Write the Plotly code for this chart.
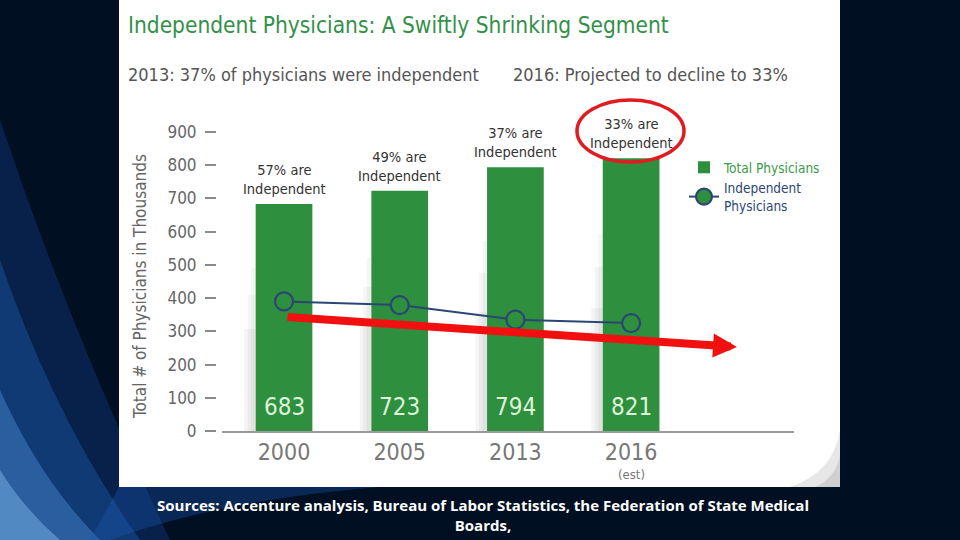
import plotly.graph_objects as go

# ---------------- data ----------------
years = ["2000", "2005", "2013", "2016"]
total_physicians = [683, 723, 794, 821]
independent_physicians = [390, 379, 335, 325]
independent_share = ["57%", "49%", "37%", "33%"]
y_tick_values = [0, 100, 200, 300, 400, 500, 600, 700, 800, 900]

title_text = "Independent Physicians: A Swiftly Shrinking Segment"
subtitle_left = "2013: 37% of physicians were independent"
subtitle_right = "2016: Projected to decline to 33%"
y_title = "Total # of Physicians in Thousands"
source_lines = [
    "Sources: Accenture analysis, Bureau of Labor Statistics, the Federation of State Medical",
    "Boards,",
    "Medical Group Management Association, American Medical Association, Jackson Healthcare",
]

# ---------------- styling ----------------
W, H = 960, 540
def px(x):
    return x / W
def py(y):
    return 1 - y / H

GREEN = "#2e8f3e"
TITLE_GREEN = "#33904a"
NAVY = "#2c4674"
GRAY = "#666666"
FONT = "Liberation Sans Narrow, DejaVu Sans Condensed, Roboto Condensed, Roboto"
BAR_W = 0.49

fig = go.Figure()

fig.add_trace(go.Bar(
    x=years, y=total_physicians,
    name="<span style='color:#3a9a48'>Total Physicians</span>",
    marker=dict(color=GREEN, line=dict(width=0)),
    width=BAR_W, hoverinfo="skip",
))
fig.add_trace(go.Scatter(
    x=years, y=independent_physicians, mode="lines+markers",
    name="<span style='color:#2c4674'>Independent<br>Physicians</span>",
    line=dict(color=NAVY, width=2),
    marker=dict(size=18, color=GREEN, line=dict(color=NAVY, width=2.2)),
    hoverinfo="skip",
))

shapes = []
# slide background streaks
shapes += [
    dict(type="path", xref="paper", yref="paper", layer="below",
         path=f"M {px(0)},{py(120)} Q {px(70)},{py(330)} {px(170)},{py(540)} L {px(0)},{py(540)} Z",
         fillcolor="rgba(20,70,150,0.35)", line=dict(width=0)),
    dict(type="path", xref="paper", yref="paper", layer="below",
         path=f"M {px(0)},{py(260)} Q {px(55)},{py(420)} {px(140)},{py(540)} L {px(0)},{py(540)} Z",
         fillcolor="rgba(35,105,195,0.35)", line=dict(width=0)),
    dict(type="path", xref="paper", yref="paper", layer="below",
         path=f"M {px(0)},{py(390)} Q {px(40)},{py(480)} {px(100)},{py(540)} L {px(0)},{py(540)} Z",
         fillcolor="rgba(80,150,225,0.4)", line=dict(width=0)),
    dict(type="path", xref="paper", yref="paper", layer="below",
         path=f"M {px(0)},{py(470)} Q {px(25)},{py(510)} {px(60)},{py(540)} L {px(0)},{py(540)} Z",
         fillcolor="rgba(130,190,240,0.45)", line=dict(width=0)),
    dict(type="path", xref="paper", yref="paper", layer="below",
         path=f"M {px(110)},{py(540)} Q {px(220)},{py(500)} {px(380)},{py(487)} L {px(119)},{py(487)} L {px(90)},{py(540)} Z",
         fillcolor="rgba(30,90,180,0.35)", line=dict(width=0)),
]
# white picture panel
shapes.append(dict(type="rect", xref="paper", yref="paper", layer="below",
                   x0=px(119), x1=px(840), y0=py(487), y1=py(0),
                   fillcolor="white", line=dict(width=0)))
# page curl shading bottom-right
shapes.append(dict(type="path", xref="paper", yref="paper", layer="below",
                   path=f"M {px(840)},{py(430)} Q {px(834)},{py(472)} {px(790)},{py(487)} L {px(840)},{py(487)} Z",
                   fillcolor="rgba(160,160,160,0.25)", line=dict(width=0)))
shapes.append(dict(type="path", xref="paper", yref="paper", layer="below",
                   path=f"M {px(840)},{py(455)} Q {px(836)},{py(478)} {px(815)},{py(487)} L {px(840)},{py(487)} Z",
                   fillcolor="rgba(140,140,140,0.25)", line=dict(width=0)))
# soft shadows at the left of each bar
for i, v in enumerate(total_physicians):
    left = i - BAR_W / 2
    for w, frac in [(0.10, 0.45), (0.07, 0.6), (0.04, 0.72)]:
        shapes.append(dict(type="rect", xref="x", yref="y", layer="below",
                           x0=left - w, x1=left, y0=0, y1=v * frac,
                           fillcolor="rgba(0,0,0,0.04)", line=dict(width=0)))
# red ellipse
shapes.append(dict(type="circle", xref="paper", yref="paper", layer="above",
                   x0=px(577), x1=px(684), y0=py(162), y1=py(100),
                   line=dict(color="#e01b22", width=3.5)))

annotations = []
# title and subtitles
annotations.append(dict(x=px(126), y=py(25), xref="paper", yref="paper", xanchor="left", yanchor="middle",
                        text=title_text, showarrow=False,
                        font=dict(family=FONT, size=22.5, color=TITLE_GREEN)))
annotations.append(dict(x=px(126), y=py(74), xref="paper", yref="paper", xanchor="left", yanchor="middle",
                        text=subtitle_left, showarrow=False,
                        font=dict(family=FONT, size=18, color="#555555")))
annotations.append(dict(x=px(511), y=py(74), xref="paper", yref="paper", xanchor="left", yanchor="middle",
                        text=subtitle_right, showarrow=False,
                        font=dict(family=FONT, size=18, color="#555555")))
# y-axis title
annotations.append(dict(x=px(140), y=py(287), xref="paper", yref="paper", xanchor="center", yanchor="middle",
                        text=y_title, textangle=-90, showarrow=False,
                        font=dict(family=FONT, size=17, color=GRAY)))
# bar notes and values (category index positions)
for i, (v, s) in enumerate(zip(total_physicians, independent_share)):
    annotations.append(dict(x=i, y=v, xref="x", yref="y", yanchor="bottom", yshift=5,
                            text=f"{s} are<br>Independent", showarrow=False,
                            font=dict(family=FONT, size=14.5, color="#333333")))
    annotations.append(dict(x=i, y=0, xref="x", yref="y", yanchor="bottom", yshift=8,
                            text=str(v), showarrow=False,
                            font=dict(family=FONT, size=24, color="#dff3da")))
annotations.append(dict(x=len(years) - 1, y=py(474), xref="x", yref="paper", yanchor="middle",
                        text="(est)", showarrow=False,
                        font=dict(family=FONT, size=13, color="#777777")))
# red trend arrow
annotations.append(dict(x=px(737), y=py(347), xref="paper", yref="paper",
                        ax=-451, ay=-30, axref="pixel", ayref="pixel",
                        showarrow=True, arrowhead=2, arrowsize=0.6, arrowwidth=8,
                        arrowcolor="#f01010", text=""))
# sources
annotations.append(dict(x=px(483), y=py(515), xref="paper", yref="paper",
                        xanchor="center", yanchor="middle",
                        text=f"<b>{source_lines[0]}</b><br><b>{source_lines[1]}</b>", showarrow=False,
                        font=dict(family="Open Sans", size=15, color="white")))
annotations.append(dict(x=px(483), y=py(544.5), xref="paper", yref="paper",
                        xanchor="center", yanchor="middle",
                        text=f"<b>{source_lines[2]}</b>", showarrow=False,
                        font=dict(family="Open Sans", size=15, color="white")))

fig.update_layout(
    width=W, height=H,
    margin=dict(l=0, r=0, t=0, b=0, autoexpand=False),
    paper_bgcolor="#000f22",
    plot_bgcolor="rgba(0,0,0,0)",
    showlegend=True,
    legend=dict(x=px(684), y=py(152), xanchor="left", yanchor="top",
                bgcolor="rgba(0,0,0,0)", font=dict(family=FONT, size=13.5),
                tracegroupgap=6, itemwidth=30),
    xaxis=dict(type="category", domain=[px(222), px(794)], range=[-0.536, 4.408],
               automargin=False,
               showline=True, linecolor="#9a9a9a", linewidth=1.5, showgrid=False,
               ticks="", tickfont=dict(family=FONT, size=23, color="#777777"),
               fixedrange=True, zeroline=False),
    yaxis=dict(domain=[py(431), py(98.8)], range=[0, 1000], anchor="free", position=px(216),
               automargin=False,
               tickvals=y_tick_values, showgrid=False, zeroline=False, showline=False,
               ticks="outside", ticklen=11, tickwidth=1.5, tickcolor="#8a8a8a",
               ticklabelstandoff=5,
               tickfont=dict(family=FONT, size=17, color=GRAY), fixedrange=True),
    shapes=shapes,
    annotations=annotations,
    bargap=0.5,
)

fig.write_html("out.html", config={"displayModeBar": False},
               post_script="document.body.style.margin='0';document.body.style.padding='0';document.body.style.overflow='hidden';")
